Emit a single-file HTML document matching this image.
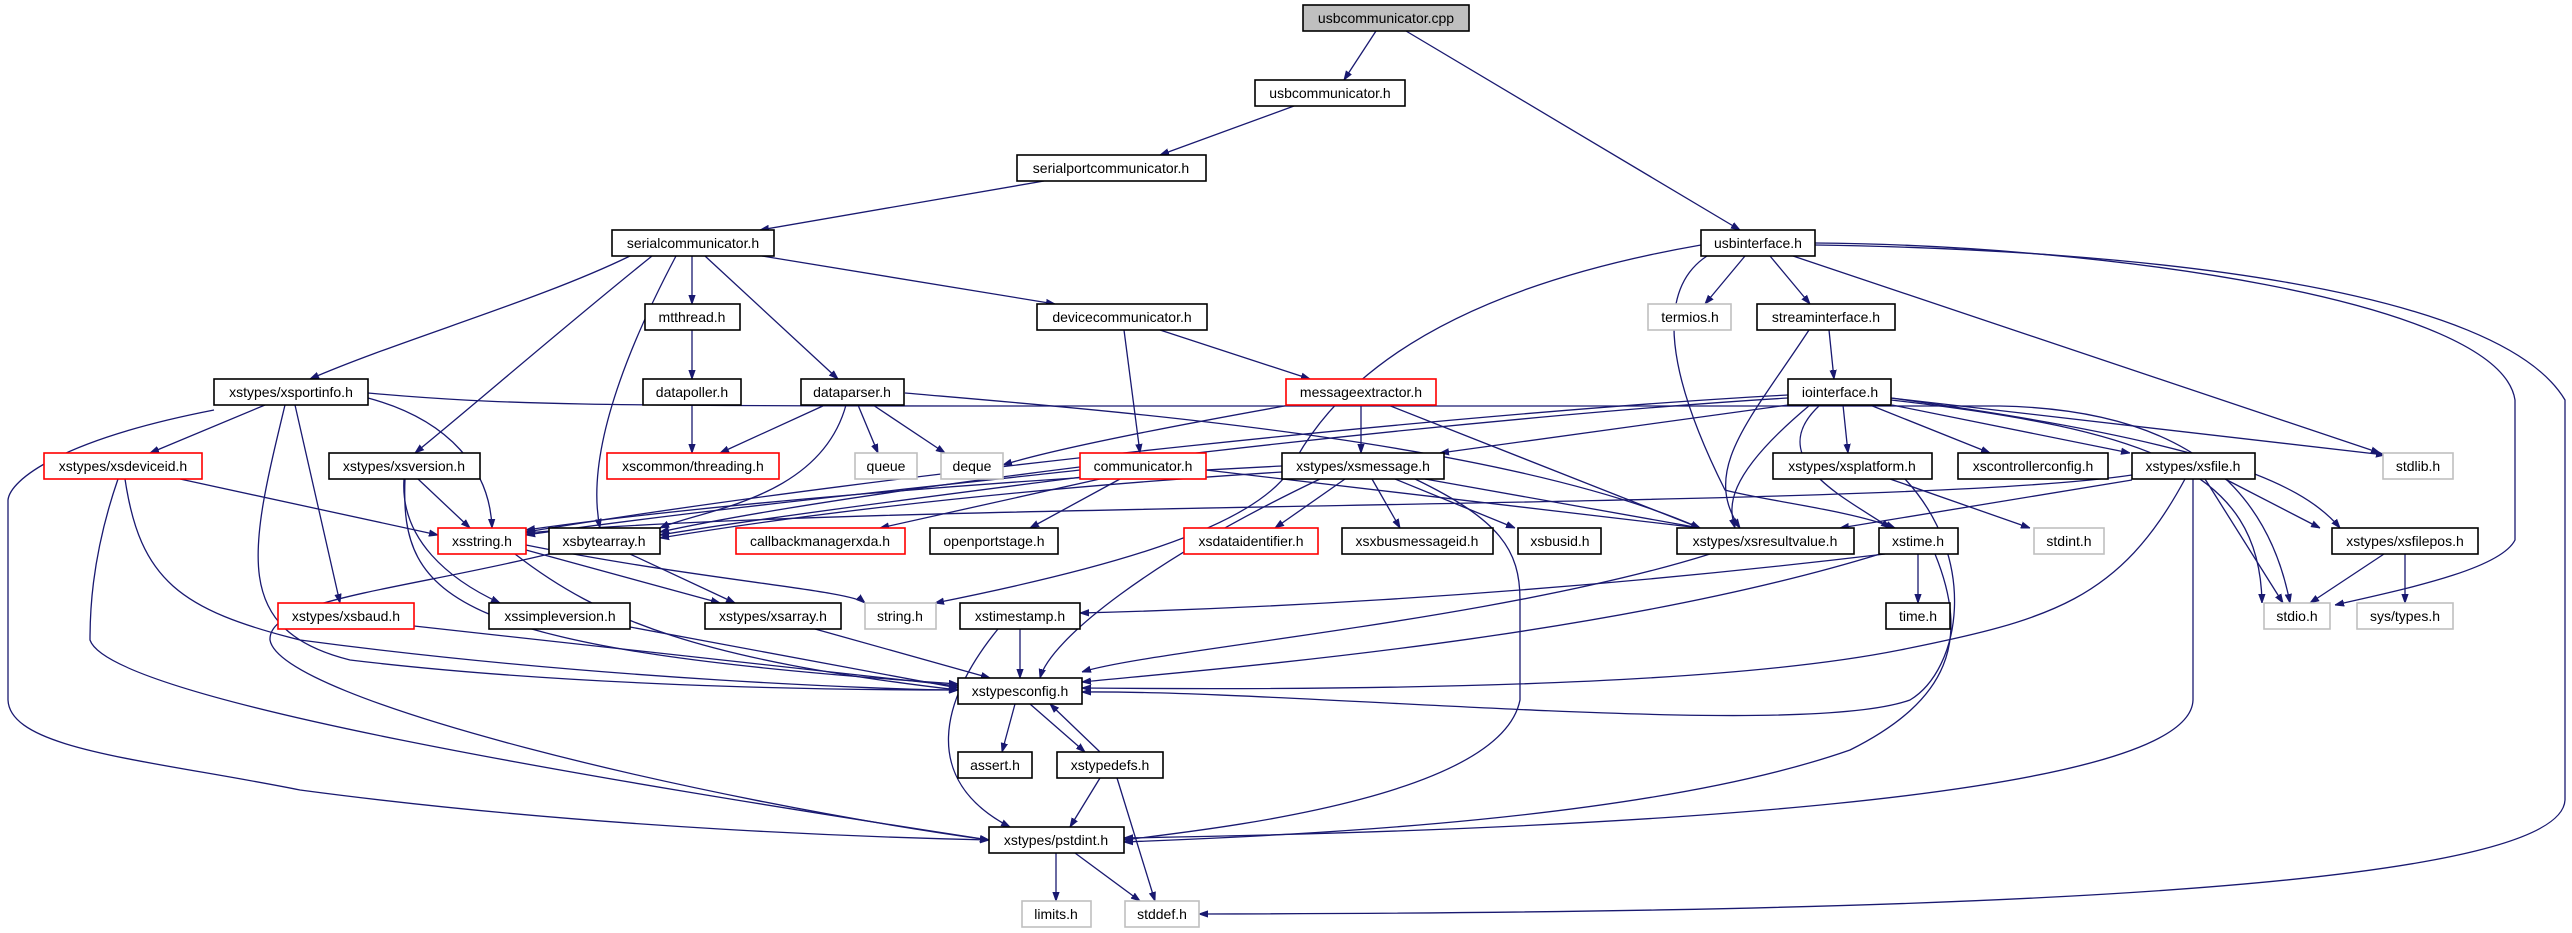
<!DOCTYPE html>
<html><head><meta charset="utf-8"><style>
html,body{margin:0;padding:0;background:#fff;}
svg{display:block;}
text{font-family:"Liberation Sans",sans-serif;font-size:14px;text-anchor:middle;fill:#000;}
.n rect{fill:#fff;stroke:#000;stroke-width:1.6;}
.g rect{fill:#fff;stroke:#bfbfbf;stroke-width:1.6;}
.r rect{fill:#fff;stroke:#ff0000;stroke-width:1.6;}
.e path{fill:none;stroke:#191970;stroke-width:1.3;marker-end:url(#a);}
</style></head><body>
<svg width="2572" height="933" viewBox="0 0 2572 933" xmlns="http://www.w3.org/2000/svg">
<defs><marker id="a" viewBox="0 0 10 10" refX="10" refY="5" markerWidth="9" markerHeight="9" markerUnits="userSpaceOnUse" orient="auto"><path d="M0,1.5 L10,5 L0,8.5 z" fill="#191970" stroke="#191970"/></marker></defs>
<g class="e">
<path d="M1376,31 L1344,80"/>
<path d="M1406,31 L1740,230"/>
<path d="M1294,106 L1160,155"/>
<path d="M1044,181 L760,230"/>
<path d="M630,256 C540,300 400,340 310,379"/>
<path d="M652,256 C560,330 480,400 415,453"/>
<path d="M676,256 C600,400 590,480 600,528"/>
<path d="M692,256 L692,304"/>
<path d="M705,256 L838,379"/>
<path d="M762,256 L1055,304"/>
<path d="M692,330 L692,379"/>
<path d="M692,405 L692,453"/>
<path d="M825,405 L720,453"/>
<path d="M846,405 C820,500 700,510 660,528"/>
<path d="M858,405 L878,453"/>
<path d="M873,405 L945,453"/>
<path d="M905,393 C1100,410 1500,440 1700,528"/>
<path d="M368,393 C500,405 600,406 1000,406 L2000,406 C2200,410 2270,500 2290,603"/>
<path d="M1124,330 L1140,453"/>
<path d="M1160,330 L1310,379"/>
<path d="M1290,405 C1150,430 1050,450 1003,465"/>
<path d="M1361,405 L1361,453"/>
<path d="M1388,405 L1700,528"/>
<path d="M1080,470 C900,490 700,510 526,535"/>
<path d="M1090,476 C900,500 750,520 660,535"/>
<path d="M1282,466 C1000,480 700,505 526,530"/>
<path d="M1282,472 C1000,490 800,515 660,538"/>
<path d="M1788,395 C1500,410 900,470 526,532"/>
<path d="M1788,398 C1500,415 900,480 660,532"/>
<path d="M2132,475 C1900,510 900,500 526,533"/>
<path d="M1100,479 L880,528"/>
<path d="M1120,479 L1030,528"/>
<path d="M1206,470 L1700,528"/>
<path d="M1701,245 C1500,280 1350,350 1290,470 C1250,530 1100,570 935,603"/>
<path d="M1745,256 L1705,304"/>
<path d="M1770,256 L1810,304"/>
<path d="M1793,256 L2380,453"/>
<path d="M1815,243 C2100,245 2500,300 2515,400 L2515,540 C2500,570 2400,590 2335,605"/>
<path d="M1815,245 C2150,250 2500,290 2565,400 L2565,800 C2560,900 1800,913 1199,914"/>
<path d="M1707,256 C1640,300 1690,420 1725,490 C1760,500 1850,510 1895,528"/>
<path d="M1829,330 L1834,379"/>
<path d="M1809,330 C1750,420 1700,470 1740,528"/>
<path d="M1788,405 L1440,453"/>
<path d="M1843,405 L1848,453"/>
<path d="M1870,405 L1990,453"/>
<path d="M1892,405 L2130,453"/>
<path d="M1891,398 L2385,455"/>
<path d="M1891,398 C2200,440 2300,480 2340,528"/>
<path d="M1891,400 C2150,430 2260,470 2262,603"/>
<path d="M1810,405 C1720,480 1730,510 1735,528"/>
<path d="M1820,405 C1760,460 1850,500 1890,528"/>
<path d="M1345,479 L1275,528"/>
<path d="M1372,479 L1400,528"/>
<path d="M1395,479 L1515,528"/>
<path d="M1425,479 L1700,528"/>
<path d="M1320,479 C1150,560 1050,640 1040,678"/>
<path d="M1415,479 C1500,520 1520,550 1520,600 L1520,700 C1500,800 1200,830 1124,840"/>
<path d="M1890,479 L2030,528"/>
<path d="M1905,479 C1980,560 1960,670 1910,700 C1800,740 1300,690 1082,692"/>
<path d="M2225,479 L2320,528"/>
<path d="M2205,479 L2283,603"/>
<path d="M2132,480 L1840,528"/>
<path d="M2185,479 C2120,600 2050,620 1900,650 C1700,690 1300,690 1082,688"/>
<path d="M2193,479 L2193,700 C2190,800 1600,830 1124,838"/>
<path d="M2384,554 L2310,603"/>
<path d="M2405,554 L2405,603"/>
<path d="M1918,554 L1918,603"/>
<path d="M1885,554 C1500,600 1200,610 1080,613"/>
<path d="M1880,554 C1600,640 1200,670 1082,682"/>
<path d="M1935,554 C1970,640 1950,700 1850,750 C1650,820 1300,835 1124,842"/>
<path d="M1710,554 C1500,620 1150,650 1082,672"/>
<path d="M180,479 L438,535"/>
<path d="M125,479 C140,580 180,610 300,640 C600,680 900,690 958,690"/>
<path d="M118,479 C90,560 90,620 90,640 C110,700 600,780 989,840"/>
<path d="M265,405 L150,453"/>
<path d="M368,398 C450,420 490,470 492,528"/>
<path d="M295,405 L340,603"/>
<path d="M285,405 C250,550 230,630 350,660 C600,690 900,690 958,690"/>
<path d="M214,410 C60,440 10,480 8,500 L8,700 C10,750 150,760 300,790 C600,830 900,838 989,840"/>
<path d="M418,479 L470,528"/>
<path d="M404,479 C400,540 450,580 500,603"/>
<path d="M405,479 C400,600 450,650 958,684"/>
<path d="M526,550 L720,603"/>
<path d="M526,545 C700,580 850,590 865,603"/>
<path d="M515,554 C600,620 700,660 958,690"/>
<path d="M549,554 C400,590 268,600 270,640 C280,700 700,800 989,840"/>
<path d="M630,554 L735,603"/>
<path d="M414,626 L958,686"/>
<path d="M630,627 L958,688"/>
<path d="M815,629 L990,678"/>
<path d="M1020,629 L1020,678"/>
<path d="M998,629 C940,700 920,780 1010,827"/>
<path d="M1015,704 L1002,752"/>
<path d="M1030,704 L1085,752"/>
<path d="M1100,752 L1050,704"/>
<path d="M1100,778 L1070,827"/>
<path d="M1117,778 L1155,901"/>
<path d="M1056,853 L1056,901"/>
<path d="M1075,853 L1140,901"/>
</g>
<g class="n"><rect x="1303" y="5" width="166" height="26" style="fill:#bfbfbf"/><text x="1386" y="23">usbcommunicator.cpp</text></g>
<g class="n"><rect x="1255" y="80" width="150" height="26"/><text x="1330" y="98">usbcommunicator.h</text></g>
<g class="n"><rect x="1017" y="155" width="189" height="26"/><text x="1111" y="173">serialportcommunicator.h</text></g>
<g class="n"><rect x="612" y="230" width="162" height="26"/><text x="693" y="248">serialcommunicator.h</text></g>
<g class="n"><rect x="1701" y="230" width="114" height="26"/><text x="1758" y="248">usbinterface.h</text></g>
<g class="n"><rect x="645" y="304" width="95" height="26"/><text x="692" y="322">mtthread.h</text></g>
<g class="n"><rect x="1037" y="304" width="170" height="26"/><text x="1122" y="322">devicecommunicator.h</text></g>
<g class="g"><rect x="1648" y="304" width="83" height="26"/><text x="1690" y="322">termios.h</text></g>
<g class="n"><rect x="1757" y="304" width="138" height="26"/><text x="1826" y="322">streaminterface.h</text></g>
<g class="n"><rect x="214" y="379" width="154" height="26"/><text x="291" y="397">xstypes/xsportinfo.h</text></g>
<g class="n"><rect x="643" y="379" width="98" height="26"/><text x="692" y="397">datapoller.h</text></g>
<g class="n"><rect x="801" y="379" width="103" height="26"/><text x="852" y="397">dataparser.h</text></g>
<g class="r"><rect x="1286" y="379" width="150" height="26"/><text x="1361" y="397">messageextractor.h</text></g>
<g class="n"><rect x="1788" y="379" width="103" height="26"/><text x="1840" y="397">iointerface.h</text></g>
<g class="r"><rect x="44" y="453" width="158" height="26"/><text x="123" y="471">xstypes/xsdeviceid.h</text></g>
<g class="n"><rect x="329" y="453" width="151" height="26"/><text x="404" y="471">xstypes/xsversion.h</text></g>
<g class="r"><rect x="607" y="453" width="172" height="26"/><text x="693" y="471">xscommon/threading.h</text></g>
<g class="g"><rect x="855" y="453" width="62" height="26"/><text x="886" y="471">queue</text></g>
<g class="g"><rect x="941" y="453" width="62" height="26"/><text x="972" y="471">deque</text></g>
<g class="r"><rect x="1080" y="453" width="126" height="26"/><text x="1143" y="471">communicator.h</text></g>
<g class="n"><rect x="1282" y="453" width="162" height="26"/><text x="1363" y="471">xstypes/xsmessage.h</text></g>
<g class="n"><rect x="1773" y="453" width="159" height="26"/><text x="1852" y="471">xstypes/xsplatform.h</text></g>
<g class="n"><rect x="1958" y="453" width="150" height="26"/><text x="2033" y="471">xscontrollerconfig.h</text></g>
<g class="n"><rect x="2132" y="453" width="123" height="26"/><text x="2193" y="471">xstypes/xsfile.h</text></g>
<g class="g"><rect x="2383" y="453" width="70" height="26"/><text x="2418" y="471">stdlib.h</text></g>
<g class="r"><rect x="438" y="528" width="88" height="26"/><text x="482" y="546">xsstring.h</text></g>
<g class="n"><rect x="549" y="528" width="111" height="26"/><text x="604" y="546">xsbytearray.h</text></g>
<g class="r"><rect x="736" y="528" width="169" height="26"/><text x="820" y="546">callbackmanagerxda.h</text></g>
<g class="n"><rect x="930" y="528" width="128" height="26"/><text x="994" y="546">openportstage.h</text></g>
<g class="r"><rect x="1184" y="528" width="134" height="26"/><text x="1251" y="546">xsdataidentifier.h</text></g>
<g class="n"><rect x="1342" y="528" width="151" height="26"/><text x="1417" y="546">xsxbusmessageid.h</text></g>
<g class="n"><rect x="1518" y="528" width="83" height="26"/><text x="1560" y="546">xsbusid.h</text></g>
<g class="n"><rect x="1677" y="528" width="177" height="26"/><text x="1765" y="546">xstypes/xsresultvalue.h</text></g>
<g class="n"><rect x="1879" y="528" width="79" height="26"/><text x="1918" y="546">xstime.h</text></g>
<g class="g"><rect x="2034" y="528" width="70" height="26"/><text x="2069" y="546">stdint.h</text></g>
<g class="n"><rect x="2332" y="528" width="146" height="26"/><text x="2405" y="546">xstypes/xsfilepos.h</text></g>
<g class="r"><rect x="278" y="603" width="136" height="26"/><text x="346" y="621">xstypes/xsbaud.h</text></g>
<g class="n"><rect x="489" y="603" width="141" height="26"/><text x="560" y="621">xssimpleversion.h</text></g>
<g class="n"><rect x="705" y="603" width="136" height="26"/><text x="773" y="621">xstypes/xsarray.h</text></g>
<g class="g"><rect x="865" y="603" width="71" height="26"/><text x="900" y="621">string.h</text></g>
<g class="n"><rect x="960" y="603" width="120" height="26"/><text x="1020" y="621">xstimestamp.h</text></g>
<g class="n"><rect x="1886" y="603" width="64" height="26"/><text x="1918" y="621">time.h</text></g>
<g class="g"><rect x="2264" y="603" width="66" height="26"/><text x="2297" y="621">stdio.h</text></g>
<g class="g"><rect x="2357" y="603" width="96" height="26"/><text x="2405" y="621">sys/types.h</text></g>
<g class="n"><rect x="958" y="678" width="124" height="26"/><text x="1020" y="696">xstypesconfig.h</text></g>
<g class="n"><rect x="958" y="752" width="74" height="26"/><text x="995" y="770">assert.h</text></g>
<g class="n"><rect x="1057" y="752" width="106" height="26"/><text x="1110" y="770">xstypedefs.h</text></g>
<g class="n"><rect x="989" y="827" width="135" height="26"/><text x="1056" y="845">xstypes/pstdint.h</text></g>
<g class="g"><rect x="1022" y="901" width="69" height="26"/><text x="1056" y="919">limits.h</text></g>
<g class="g"><rect x="1125" y="901" width="74" height="26"/><text x="1162" y="919">stddef.h</text></g>
</svg>
</body></html>
